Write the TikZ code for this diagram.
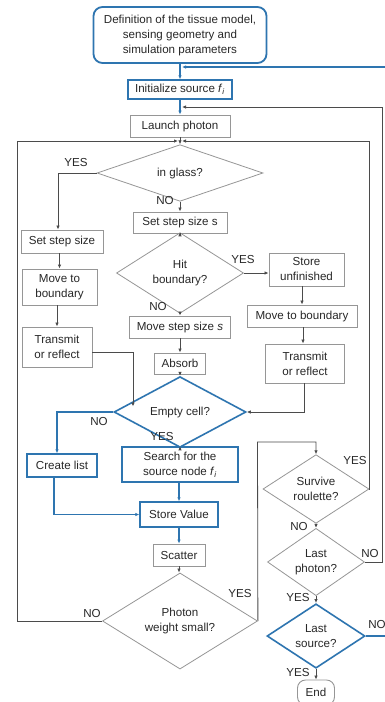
\documentclass[tikz,border=0pt]{standalone}
\usepackage{fontspec}
\setmainfont{Liberation Sans}
\usetikzlibrary{shapes.geometric,arrows.meta}
\definecolor{bl}{RGB}{46,117,176}
\definecolor{gb}{RGB}{150,150,150}
\definecolor{ln}{RGB}{75,75,75}
\definecolor{tx}{RGB}{40,40,40}
\begin{document}
\begin{tikzpicture}[x=1pt,y=-1pt, font=\fontsize{11.6}{15}\selectfont, text=tx,
 box/.style={draw=gb, line width=0.9pt, rectangle, inner sep=0pt, align=center},
 bbox/.style={draw=bl, line width=1.4pt, rectangle, inner sep=0pt, align=center},
 dia/.style={draw=gb, line width=0.8pt, diamond, inner sep=0pt, align=center},
 bdia/.style={draw=bl, line width=1.6pt, diamond, inner sep=0pt, align=center},
 con/.style={draw=ln, line width=0.8pt, -{Latex[length=4pt,width=3.5pt]}},
 bcon/.style={draw=bl, line width=1.2pt, -{Latex[length=4pt,width=3.5pt]}},
 lbl/.style={inner sep=0pt, font=\fontsize{11.6}{13}\selectfont}]
\clip (0,0) rectangle (385,702);
\fill[white] (0,0) rectangle (385,702);

% nodes
\node[bbox, rounded corners=9pt, line width=1.8pt, minimum width=173pt, minimum height=56pt] (def) at (180,35) {Definition of the tissue model,\\sensing geometry and\\simulation parameters};
\node[bbox, minimum width=104pt, minimum height=19pt] (init) at (180,89.5) {Initialize source \textit{f}\textsubscript{\textit{i}}};
\node[box, minimum width=100pt, minimum height=22pt] (launch) at (180,126) {Launch photon};
\node[dia, minimum width=166pt, minimum height=40pt] (glass) at (180,173) {in glass?};
\node[box, minimum width=94pt, minimum height=21pt] (steps) at (180,222.5) {Set step size s};
\node[box, minimum width=82pt, minimum height=23pt] (stepl) at (62,241.5) {Set step size};
\node[dia, minimum width=127pt, minimum height=64pt] (hit) at (180,273) {Hit\\boundary?};
\node[box, minimum width=75pt, minimum height=33pt] (storeu) at (306.5,269.5) {Store\\unfinished};
\node[box, minimum width=110pt, minimum height=22pt] (mover) at (302,316) {Move to boundary};
\node[box, minimum width=79pt, minimum height=39pt] (transr) at (305,363.5) {Transmit\\or reflect};
\node[box, minimum width=75pt, minimum height=36pt] (movel) at (59.5,287) {Move to\\boundary};
\node[box, minimum width=70pt, minimum height=40pt] (transl) at (57,347) {Transmit\\or reflect};
\node[box, minimum width=101pt, minimum height=22pt] (moves) at (180,327) {Move step size \textit{s}};
\node[box, minimum width=51pt, minimum height=21pt] (absorb) at (180,363.5) {Absorb};
\node[bdia, minimum width=132pt, minimum height=35pt] (empty) at (180,412) {Empty cell?};
\node[bbox, minimum width=70pt, minimum height=23pt] (create) at (62,465.5) {Create list};
\node[bbox, minimum width=116pt, minimum height=35pt] (search) at (180,464.5) {Search for the\\source node \textit{f}\textsubscript{\textit{i}}};
\node[bbox, minimum width=78pt, minimum height=25pt] (storev) at (179,514.5) {Store Value};
\node[box, minimum width=52pt, minimum height=22pt] (scatter) at (179,555) {Scatter};
\node[dia, minimum width=155pt, minimum height=77pt] (weight) at (180,621) {Photon\\weight small?};
\node[dia, minimum width=106pt, minimum height=62pt] (survive) at (316,489) {Survive\\roulette?};
\node[dia, minimum width=97pt, minimum height=62pt] (lastp) at (316,562) {Last\\photon?};
\node[bdia, minimum width=98pt, minimum height=62pt] (lasts) at (316,636) {Last\\source?};
\node[box, rounded corners=8pt, minimum width=37pt, minimum height=25pt] (end) at (316,692.5) {End};

% junction coordinates
\coordinate (jt) at (180,67);
\coordinate (jl) at (180,107);
\coordinate (jloop) at (180,141);
\coordinate (lL) at (17,141);
\coordinate (lR) at (369,141);
\coordinate (rR) at (382,107);
\coordinate (tE) at (133,406.5);
\coordinate (wtop) at (257.5,442);
\coordinate (bR) at (388,67);

% connectors
\draw[bcon] (def.south) -- (init.north);
\draw[bcon] (init.south) -- (launch.north);
\draw[draw=ln, line width=0.8pt] (launch.south) -- (jloop);
\draw[con] (jloop) -- (glass.north);
\draw[con] (glass.west) -| ([xshift=-4pt]stepl.north);
\draw[con] (movel.north |- stepl.south) -- (movel.north);
\draw[con] (transl.north |- movel.south) -- (transl.north);
\draw[con] ([yshift=-5pt]transl.east) -| (tE);
\draw[con] (glass.south) -- (steps.north);
\draw[con] (steps.south) -- (hit.north);
\draw[con] (hit.east) -- (hit.east -| storeu.west);
\draw[con] (mover.north |- storeu.south) -- (mover.north);
\draw[con] ([xshift=1pt]mover.south) -- ([xshift=-2pt]transr.north);
\draw[con] ([xshift=-1pt]transr.south) |- (empty.east);
\draw[con] (hit.south) -- (moves.north);
\draw[con] (moves.south) -- (absorb.north);
\draw[con] (absorb.south) -- (empty.north);
\draw[bcon] (empty.west) -| ([xshift=-5pt]create.north);
\draw[con] (empty.south) -- (search.north);
\draw[bcon] ([xshift=-8pt]create.south) |- (storev.west);
\draw[bcon] (search.south -| storev.north) -- (storev.north);
\draw[bcon] (storev.south) -- (scatter.north);
\draw[con] (scatter.south) -- (weight.north -| scatter.south);
\draw[con] (weight.west) -| (lL) -- ([xshift=-2pt]jloop);
\draw[con] (survive.east) -| (lR) -- ([xshift=2pt]jloop);
\draw[con] (weight.east) -- (wtop) -| (survive.north);
\draw[con] (survive.south) -- (lastp.north);
\draw[con] (lastp.east) -| (rR) -- ([xshift=2pt]jl);
\draw[con] (lastp.south) -- (lasts.north);
\draw[con] (lasts.south) -- (end.north);
\draw[bcon] (lasts.east) -| (bR) -- ([xshift=2pt]jt);

% labels
\node[lbl] (l1) at (76,163) {YES};
\node[lbl] (l2) at (165,201) {NO};
\node[lbl] (l3) at (243,260) {YES};
\node[lbl] (l4) at (158,307) {NO};
\node[lbl] (l5) at (99,422) {NO};
\node[lbl] (l6) at (162,437) {YES};
\node[lbl] (l7) at (355,460) {YES};
\node[lbl] (l8) at (299,526) {NO};
\node[lbl] (l9) at (240,593) {YES};
\node[lbl] (l10) at (92,613) {NO};
\node[lbl] (l11) at (370,553) {NO};
\node[lbl] (l12) at (298,597) {YES};
\node[lbl] (l13) at (377,624) {NO};
\node[lbl] (l14) at (298,672) {YES};
\end{tikzpicture}
\end{document}
